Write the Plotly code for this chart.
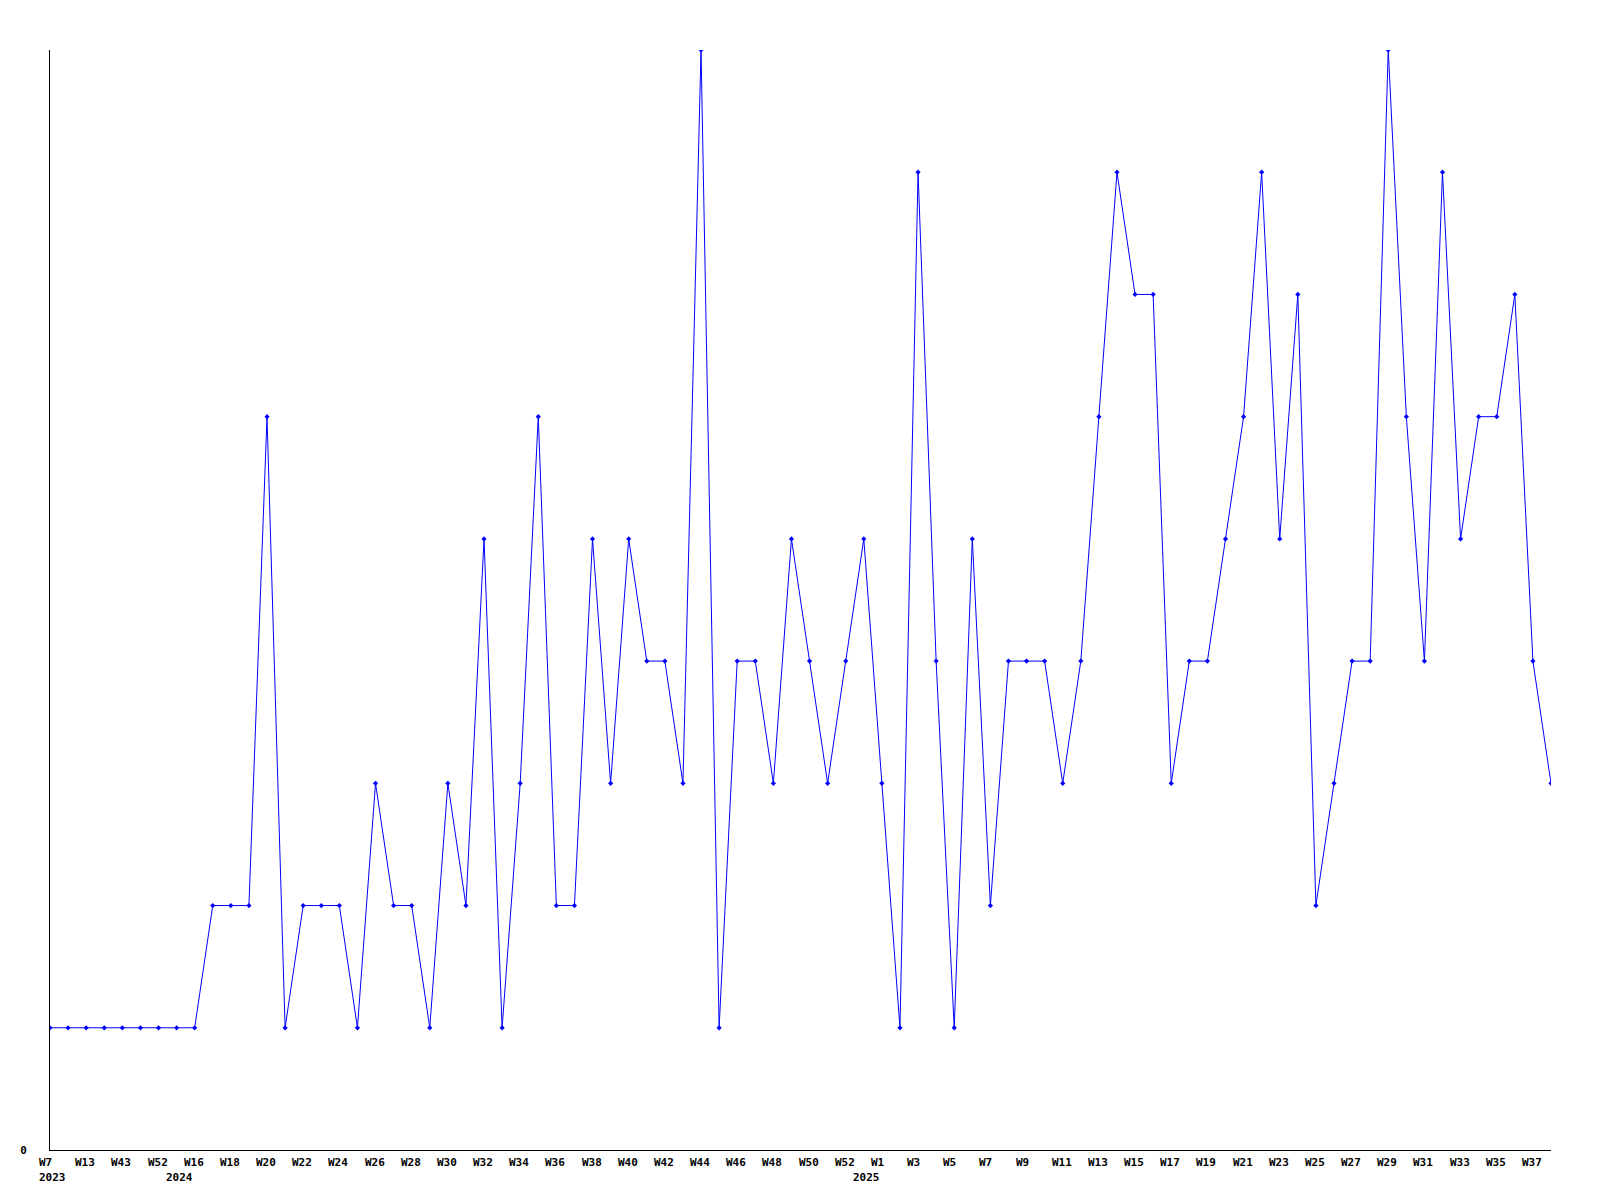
import plotly.graph_objects as go

# Week labels (one per data point); labels shown on every 2nd point
weeks = [
    "W7", "W9", "W13", "W30", "W43", "W47", "W52", "W15", "W16", "W17",
    "W18", "W19", "W20", "W21", "W22", "W23", "W24", "W25", "W26", "W27",
    "W28", "W29", "W30", "W31", "W32", "W33", "W34", "W35", "W36", "W37",
    "W38", "W39", "W40", "W41", "W42", "W43", "W44", "W45", "W46", "W47",
    "W48", "W49", "W50", "W51", "W52", "W53", "W1", "W2", "W3", "W4",
    "W5", "W6", "W7", "W8", "W9", "W10", "W11", "W12", "W13", "W14",
    "W15", "W16", "W17", "W18", "W19", "W20", "W21", "W22", "W23", "W24",
    "W25", "W26", "W27", "W28", "W29", "W30", "W31", "W32", "W33", "W34",
    "W35", "W36", "W37", "W38",
]
# Years and the index of the first point belonging to each
years = ["2023", "2024", "2025"]
year_start_index = [0, 7, 45]

values = [
    1, 1, 1, 1, 1, 1, 1, 1, 1, 2,
    2, 2, 6, 1, 2, 2, 2, 1, 3, 2,
    2, 1, 3, 2, 5, 1, 3, 6, 2, 2,
    5, 3, 5, 4, 4, 3, 9, 1, 4, 4,
    3, 5, 4, 3, 4, 5, 3, 1, 8, 4,
    1, 5, 2, 4, 4, 4, 3, 4, 6, 8,
    7, 7, 3, 4, 4, 5, 6, 8, 5, 7,
    2, 3, 4, 4, 9, 6, 4, 8, 5, 6,
    6, 7, 4, 3,
]

x = list(range(len(values)))
tickvals = x[::2]

fig = go.Figure()
fig.add_trace(go.Scatter(
    x=x, y=values, mode="lines+markers",
    line=dict(color="#0000ff", width=1),
    marker=dict(color="#0000ff", size=4, symbol="diamond"),
    showlegend=False,
))

font = dict(family="DejaVu Sans Mono", size=11, color="black", weight="bold")

# Week labels: left-aligned slightly before each labelled point
for i in tickvals:
    fig.add_annotation(
        x=i, xref="x", y=0, yref="paper",
        text=weeks[i], showarrow=False, font=font,
        xanchor="left", yanchor="middle", xshift=-13, yshift=-12,
    )

# Year labels under the first point of each year
for yr, idx in zip(years, year_start_index):
    fig.add_annotation(
        x=idx, xref="x", y=0, yref="paper",
        text=yr, showarrow=False, font=font,
        xanchor="left", yanchor="middle", xshift=-13, yshift=-27,
    )

fig.update_layout(
    width=1584, height=1184,
    margin=dict(l=42, r=41, t=42, b=42, autoexpand=False),
    paper_bgcolor="white", plot_bgcolor="white",
    font=font,
    xaxis=dict(
        range=[0, len(values) - 1],
        showticklabels=False,
        showgrid=False, zeroline=False,
        showline=True, linecolor="black", linewidth=1,
        ticks="",
    ),
    yaxis=dict(
        range=[0, 9],
        tickmode="array", tickvals=[0], ticktext=["0"],
        showgrid=False, zeroline=False,
        showline=True, linecolor="black", linewidth=1,
        ticks="", tickfont=font, ticklabelstandoff=20,
    ),
)

fig.write_html("out.html")
